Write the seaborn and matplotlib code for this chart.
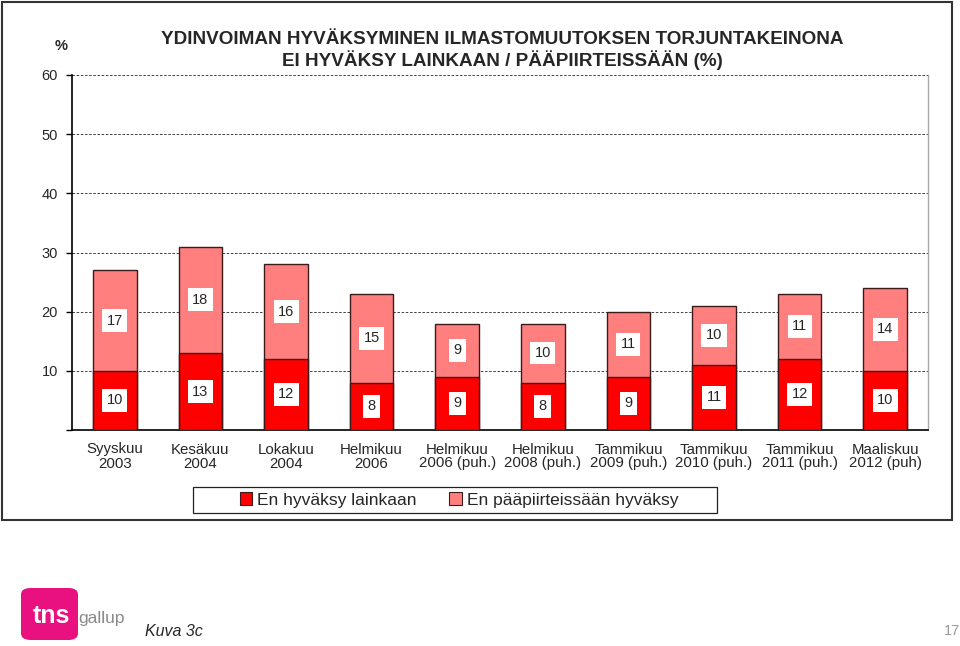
import matplotlib
matplotlib.use("Agg")
import matplotlib.pyplot as plt
import seaborn as sns
import pandas as pd
import numpy as np
from matplotlib.patches import Rectangle, FancyBboxPatch, Patch

categories = ["Syyskuu\n2003", "Kesäkuu\n2004", "Lokakuu\n2004", "Helmikuu\n2006",
              "Helmikuu\n2006 (puh.)", "Helmikuu\n2008 (puh.)", "Tammikuu\n2009 (puh.)",
              "Tammikuu\n2010 (puh.)", "Tammikuu\n2011 (puh.)", "Maaliskuu\n2012 (puh)"]
en_hyvaksy = [10, 13, 12, 8, 9, 8, 9, 11, 12, 10]
en_paapiirteissaan = [17, 18, 16, 15, 9, 10, 11, 10, 11, 14]
series_names = ["En hyväksy lainkaan", "En pääpiirteissään hyväksy"]
yticks = [10, 20, 30, 40, 50, 60]

sns.set_style("white")
plt.rcParams['font.family'] = ['Liberation Sans', 'DejaVu Sans']

dark = "#FF0000"
light = "#FF7F7F"
edge = "#3a1a1a"

df = pd.DataFrame({"cat": categories, "low": en_hyvaksy, "high": en_paapiirteissaan})
df["total"] = df["low"] + df["high"]

fig = plt.figure(figsize=(9.6, 6.46), dpi=100)
ax = fig.add_axes([72/960, 1-430/646, (928-72)/960, (430-75)/646])

sns.barplot(data=df, x="cat", y="total", color=light, width=0.51, edgecolor=edge,
            linewidth=1.0, saturation=1, ax=ax, zorder=3)
sns.barplot(data=df, x="cat", y="low", color=dark, width=0.51, edgecolor=edge,
            linewidth=1.0, saturation=1, ax=ax, zorder=4)

ax.set_ylim(0, 60)
ax.set_xlim(-0.5, len(categories) - 0.5)
ax.set_yticks([0] + yticks)
ax.set_yticklabels([""] + [str(t) for t in yticks], fontsize=10.5)
ax.set_xticks(range(len(categories)))
ax.set_xticklabels(categories, fontsize=10.8, linespacing=1.0)
ax.set_xlabel("")
ax.set_ylabel("")
for t in yticks:
    ax.axhline(t, color="#222222", linestyle=(0, (3, 2)), linewidth=0.6, zorder=1)

ax.set_xticks(np.arange(-0.5, len(categories), 1.0), minor=True)
ax.tick_params(axis="x", which="major", length=0, pad=9)
ax.tick_params(axis="x", which="minor", length=4, width=1, color="black", direction="out")
ax.tick_params(axis="y", length=4, width=1, color="black", direction="out", pad=6, left=True)

ax.spines["top"].set_visible(False)
ax.spines["left"].set_color("black")
ax.spines["bottom"].set_color("black")
ax.spines["left"].set_linewidth(1.2)
ax.spines["bottom"].set_linewidth(1.2)
ax.spines["right"].set_color("#aaaaaa")
ax.spines["right"].set_linewidth(1.0)

box = dict(boxstyle="square,pad=0.3", facecolor="white", edgecolor="none")
for i, (lo, hi) in enumerate(zip(en_hyvaksy, en_paapiirteissaan)):
    ax.text(i, lo/2, str(lo), ha="center", va="center", fontsize=10.5, bbox=box, zorder=6)
    ax.text(i, lo + hi/2, str(hi), ha="center", va="center", fontsize=10.5, bbox=box, zorder=6)

fig.text(502/960, 1-40/646, "YDINVOIMAN HYVÄKSYMINEN ILMASTOMUUTOKSEN TORJUNTAKEINONA",
         ha="center", va="center", fontsize=13.6, fontweight="bold")
fig.text(502/960, 1-60/646, "EI HYVÄKSY LAINKAAN / PÄÄPIIRTEISSÄÄN (%)",
         ha="center", va="center", fontsize=13.6, fontweight="bold")
fig.text(61/960, 1-46/646, "%", ha="center", va="center", fontsize=10.5, fontweight="bold")

handles = [Patch(facecolor=dark, edgecolor=edge, linewidth=0.8),
           Patch(facecolor=light, edgecolor=edge, linewidth=0.8)]
leg = fig.legend(handles, series_names, loc="center", bbox_to_anchor=(459/960, 1-500/646),
                 ncol=2, fontsize=12.5, frameon=False,
                 handlelength=0.7, handleheight=0.7, handletextpad=0.3, columnspacing=1.9,
                 borderpad=0.0, borderaxespad=0)
fig.patches.append(Rectangle((193/960, 1-513/646), 524/960, 26/646, transform=fig.transFigure,
                             fill=False, edgecolor="#222222", linewidth=0.9))

fig.patches.append(Rectangle((2/960, 1-520/646), 950/960, 518/646, transform=fig.transFigure,
                             fill=False, edgecolor="#333333", linewidth=1.5))

# logo
fig.patches.append(FancyBboxPatch((21/960, 1-640/646), 57/960, 52/646,
                                  boxstyle="round,pad=0,rounding_size=0.01",
                                  transform=fig.transFigure, facecolor="#E8117F",
                                  edgecolor="none"))
fig.text(51/960, 1-616/646, "tns", ha="center", va="center", fontsize=18,
         fontweight="bold", color="white")
fig.text(78/960, 1-618/646, "gallup", ha="left", va="center", fontsize=12.5, color="#8a8a8a")
fig.text(145/960, 1-631/646, "Kuva 3c", ha="left", va="center", fontsize=11.5, style="italic")
fig.text(952/960, 1-631/646, "17", ha="center", va="center", fontsize=10.5, color="#9a9a9a")

fig.savefig("out.png", dpi=100)
